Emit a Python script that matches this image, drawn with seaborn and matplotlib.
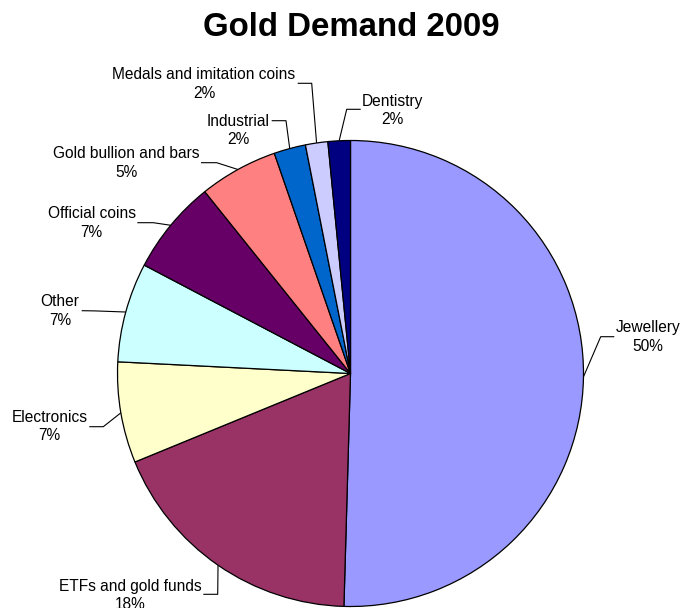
import matplotlib
matplotlib.use("Agg")
import matplotlib.pyplot as plt
import numpy as np
import seaborn as sns

# Gold demand 2009, share of total (%), clockwise from 12 o'clock
categories = [
    "Jewellery",
    "ETFs and gold funds",
    "Electronics",
    "Other",
    "Official coins",
    "Gold bullion and bars",
    "Industrial",
    "Medals and imitation coins",
    "Dentistry",
]
shares = [50.45, 18.35, 7.0, 6.9, 6.55, 5.45, 2.2, 1.55, 1.55]
colors = [
    "#9999FF", "#993366", "#FFFFCC", "#CCFFFF", "#660066",
    "#FF8080", "#0066CC", "#CCCCFF", "#000080",
]

# label placement in pixel space (y grows downward):
# text centre, start of the horizontal leader, elbow of the leader
label_text_xy = [
    (648, 337), (130.5, 595.5), (49.5, 426.5), (60, 311), (91.7, 223),
    (126, 163), (238, 130.5), (204, 84), (392.7, 110.5),
]
leader_start = [
    (614.3, 336.7), (203.3, 594.3), (89.3, 426.7), (81.7, 310.7), (137.3, 222.7),
    (201, 162.7), (271.7, 120.7), (297.7, 83.3), (360.7, 109.3),
]
leader_elbow = [
    (600.7, 336.7), (217.7, 594.3), (103.3, 426.7), (95, 310.9), (153.3, 222.7),
    (216.7, 162.7), (286, 120.7), (311.7, 83.3), (346.7, 109.3),
]

sns.set_theme(style="white")
plt.rcParams["font.family"] = ["Liberation Sans", "DejaVu Sans"]

W, H = 694, 608
fig = plt.figure(figsize=(W / 100, H / 100), dpi=100)
ax = fig.add_axes([0, 0, 1, 1])

center = (350.5, 373.5)
radius = 233

wedges, _ = ax.pie(
    shares,
    colors=colors,
    startangle=-90,
    counterclock=True,
    center=center,
    radius=radius,
    wedgeprops=dict(edgecolor="black", linewidth=0.9),
)

ax.set_xlim(0, W)
ax.set_ylim(H, 0)
ax.set_aspect("auto")
ax.axis("off")

total = float(np.sum(shares))
for w, name, val, txy, s, e in zip(wedges, categories, shares,
                                   label_text_xy, leader_start, leader_elbow):
    mid = np.deg2rad((w.theta1 + w.theta2) / 2)
    edge = (center[0] + radius * np.cos(mid), center[1] + radius * np.sin(mid))
    ax.plot([s[0], e[0], edge[0]], [s[1], e[1], edge[1]],
            color="black", linewidth=0.8, solid_capstyle="butt")
    ax.text(txy[0], txy[1], f"{name}\n{100 * val / total:.0f}%",
            ha="center", va="center", fontsize=11.2, linespacing=1.28,
            color="black")

ax.text(W / 2 + 4.5, 27, "Gold Demand 2009", ha="center", va="center",
        fontsize=23.8, fontweight="bold", color="black")

fig.savefig("out.png", dpi=100, facecolor="white")
